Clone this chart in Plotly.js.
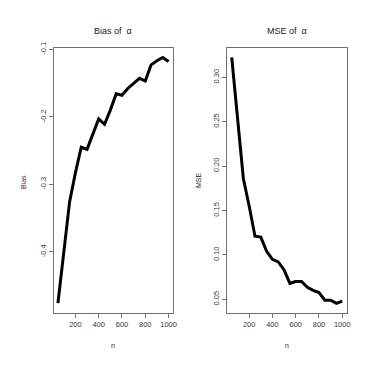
<!DOCTYPE html>
<html>
<head>
<meta charset="utf-8">
<script src="https://cdn.plot.ly/plotly-3.0.1.min.js"></script>
<style>html,body{margin:0;padding:0;background:#fff;}#chart{width:375px;height:365px;}</style>
</head>
<body>
<div id="chart"></div>
<script>
var nValues = [50,100,150,200,250,300,350,400,450,500,550,600,650,700,750,800,850,900,950,1000];
var biasAlpha = [-0.476,-0.400,-0.326,-0.283,-0.245,-0.248,-0.225,-0.203,-0.211,-0.190,-0.166,-0.168,-0.158,-0.150,-0.143,-0.147,-0.123,-0.117,-0.112,-0.118];
var mseAlpha = [0.3225,0.250,0.186,0.155,0.121,0.120,0.104,0.095,0.092,0.083,0.068,0.070,0.070,0.0635,0.060,0.0575,0.049,0.049,0.0455,0.048];
var xTicks = [200,400,600,800,1000];
var biasTicks = [-0.4,-0.3,-0.2,-0.1];
var biasTickText = ["-0.4","-0.3","-0.2","-0.1"];
var mseTicks = [0.05,0.10,0.15,0.20,0.25,0.30];
var mseTickText = ["0.05","0.10","0.15","0.20","0.25","0.30"];
var titles = ["Bias of  \u03b1", "MSE of  \u03b1"];
var yTitles = ["Bias", "MSE"];
var xTitle = "n";

var FONT = "Liberation Sans, Arial, sans-serif";
var tickFont = {family: FONT, size: 7.5, color: "#383838"};
var axisBase = {
  showgrid: false, zeroline: false, showline: true, mirror: true,
  linecolor: "#707070", linewidth: 1,
  ticks: "outside", ticklen: 4, tickcolor: "#707070", tickwidth: 1,
  tickfont: tickFont, fixedrange: true
};
function ax(extra){ var o = {}; for (var k in axisBase) o[k]=axisBase[k]; for (var k2 in extra) o[k2]=extra[k2]; return o; }

var traces = [
  {x: nValues, y: biasAlpha, type: "scatter", mode: "lines", line: {color: "#000", width: 3}, xaxis: "x", yaxis: "y", hoverinfo: "skip"},
  {x: nValues, y: mseAlpha, type: "scatter", mode: "lines", line: {color: "#000", width: 3}, xaxis: "x2", yaxis: "y2", hoverinfo: "skip"}
];

var ydom = [0.1416, 0.8693];
var layout = {
  width: 375, height: 365,
  margin: {l: 0, r: 0, t: 0, b: 0},
  paper_bgcolor: "#fff", plot_bgcolor: "#fff",
  showlegend: false,
  xaxis: ax({domain: [0.1427, 0.4613], range: [12, 1038], tickvals: xTicks, ticktext: xTicks.map(String), anchor: "y"}),
  yaxis: ax({domain: ydom, range: [-0.491, -0.0976], tickvals: biasTicks, ticktext: biasTickText, tickangle: -90, anchor: "x"}),
  xaxis2: ax({domain: [0.6061, 0.9245], range: [12, 1038], tickvals: xTicks, ticktext: xTicks.map(String), anchor: "y2"}),
  yaxis2: ax({domain: ydom, range: [0.0342, 0.3333], tickvals: mseTicks, ticktext: mseTickText, tickangle: -90, anchor: "x2"}),
  annotations: [
    {text: titles[0], xref: "paper", yref: "paper", x: 113/375, y: 1 - 31/365, showarrow: false, font: {family: FONT, size: 9, color: "#222"}, xanchor: "center", yanchor: "middle"},
    {text: titles[1], xref: "paper", yref: "paper", x: 287/375, y: 1 - 31/365, showarrow: false, font: {family: FONT, size: 9, color: "#222"}, xanchor: "center", yanchor: "middle"},
    {text: yTitles[0], xref: "paper", yref: "paper", x: 24/375, y: 1 - 182/365, showarrow: false, textangle: -90, font: {family: FONT, size: 7, color: "#4a2020"}, xanchor: "center", yanchor: "middle"},
    {text: yTitles[1], xref: "paper", yref: "paper", x: 198/375, y: 1 - 180/365, showarrow: false, textangle: -90, font: {family: FONT, size: 7, color: "#4a2020"}, xanchor: "center", yanchor: "middle"},
    {text: xTitle, xref: "paper", yref: "paper", x: 113/375, y: 1 - 345/365, showarrow: false, font: {family: FONT, size: 7, color: "#2a2a4a"}, xanchor: "center", yanchor: "middle"},
    {text: xTitle, xref: "paper", yref: "paper", x: 287/375, y: 1 - 345/365, showarrow: false, font: {family: FONT, size: 7, color: "#2a2a4a"}, xanchor: "center", yanchor: "middle"}
  ]
};
Plotly.newPlot("chart", traces, layout, {staticPlot: true, displayModeBar: false});
</script>
</body>
</html>
